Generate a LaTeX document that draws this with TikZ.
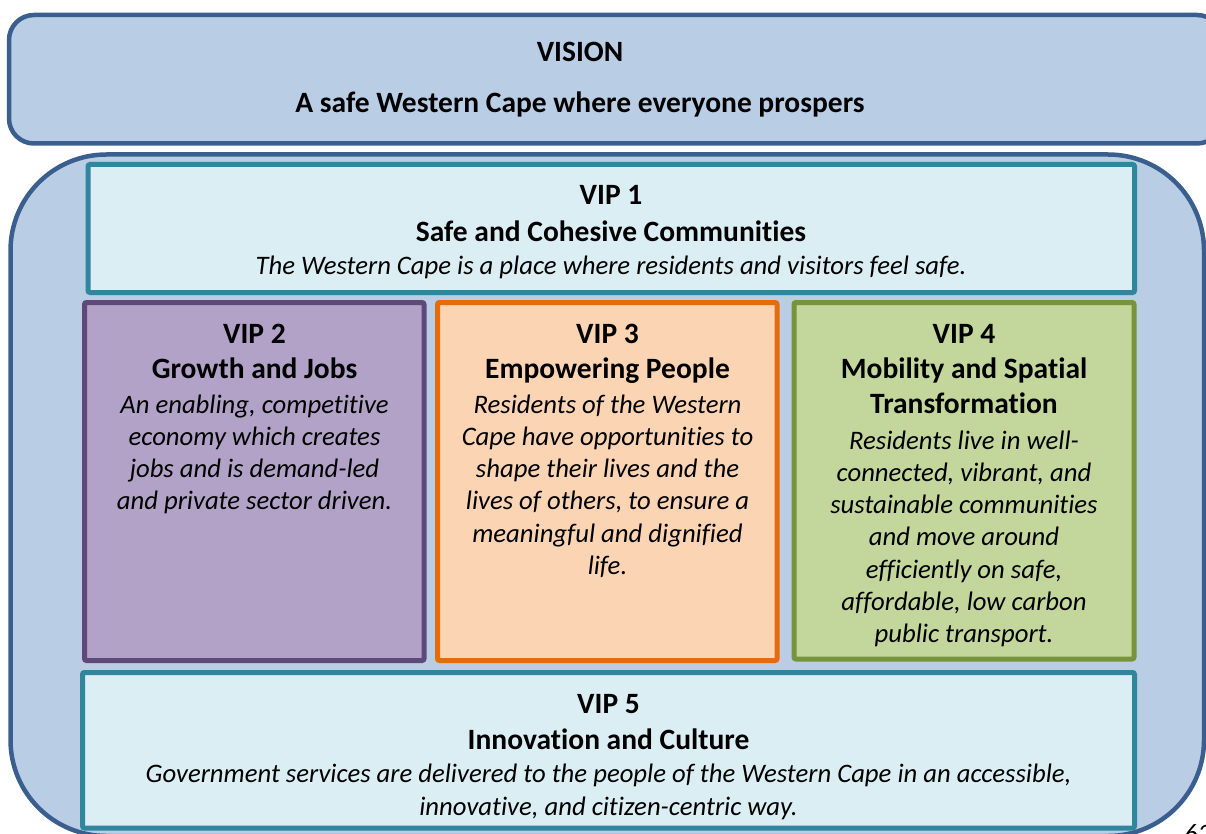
\documentclass[tikz,border=0pt]{standalone}
\usepackage{fontspec}
\setmainfont{Carlito}[Ligatures=NoCommon]
\definecolor{outerline}{HTML}{3A5F8E}
\definecolor{outerfill}{HTML}{B9CDE5}
\definecolor{tealline}{HTML}{31859C}
\definecolor{tealfill}{HTML}{DBEEF4}
\definecolor{purpline}{HTML}{5F497A}
\definecolor{purpfill}{HTML}{B2A2C7}
\definecolor{orline}{HTML}{E46C0A}
\definecolor{orfill}{HTML}{FBD4B4}
\definecolor{grline}{HTML}{77933C}
\definecolor{grfill}{HTML}{C3D69B}
\tikzset{
  bigbox/.style={draw=outerline, fill=outerfill, line width=4.5pt},
  vipbox/.style={line width=5pt, rounded corners=2pt},
  head/.style={anchor=base, inner sep=0pt, font=\fontsize{29.5}{35}\selectfont\bfseries},
  desc/.style={anchor=base, inner sep=0pt, font=\fontsize{26.7}{32.3}\selectfont\itshape},
}
\begin{document}
\begin{tikzpicture}[x=1pt,y=-1pt]
\useasboundingbox (0,0) rectangle (1206,834);
% vision
\draw[bigbox, rounded corners=25pt] (9,15) rectangle (1222,143.5);
\node[head] (vision) at (580,62) {VISION};
\node[head] (visiontext) at (580,113) {A safe Western Cape where everyone prospers};
% outer frame
\draw[bigbox, rounded corners=96pt] (10.5,154.5) rectangle (1204,836);
% VIP 1
\draw[vipbox, draw=tealline, fill=tealfill] (88,164.5) rectangle (1134.5,292.5);
\node[head] (v1a) at (611,205) {VIP 1};
\node[head] (v1b) at (611,241) {Safe and Cohesive Communities};
\node[desc] (v1d) at (611,274) {The Western Cape is a place where residents and visitors feel safe.};
% VIP 2
\draw[vipbox, draw=purpline, fill=purpfill] (84.5,302.5) rectangle (424,660.5);
\node[head] (v2a) at (254.5,343) {VIP 2};
\node[head] (v2b) at (254.5,378) {Growth and Jobs};
\foreach \t [count=\i] in {{An enabling, competitive},{economy which creates},{jobs and is demand-led},{and private sector driven.}}
  \node[desc] (v2d\i) at (254.5,{413+(\i-1)*32.3}) {\t};
% VIP 3
\draw[vipbox, draw=orline, fill=orfill] (437.5,302.5) rectangle (777,660.5);
\node[head] (v3a) at (607.5,343) {VIP 3};
\node[head] (v3b) at (607.5,378) {Empowering People};
\foreach \t [count=\i] in {{Residents of the Western},{Cape have opportunities to},{shape their lives and the},{lives of others, to ensure a},{meaningful and dignified},{life.}}
  \node[desc] (v3d\i) at (607.5,{413+(\i-1)*32.3}) {\t};
% VIP 4
\draw[vipbox, draw=grline, fill=grfill] (794,302.5) rectangle (1134,659);
\node[head] (v4a) at (964,343) {VIP 4};
\node[head] (v4b) at (964,378) {Mobility and Spatial};
\node[head] (v4c) at (964,413) {Transformation};
\foreach \t [count=\i] in {{Residents live in well-},{connected, vibrant, and},{sustainable communities},{and move around},{efficiently on safe,},{affordable, low carbon},{public transport.}}
  \node[desc] (v4d\i) at (964,{449+(\i-1)*32.3}) {\t};
% VIP 5
\draw[vipbox, draw=tealline, fill=tealfill] (82.5,672.5) rectangle (1134.5,828);
\node[head] (v5a) at (608.5,713) {VIP 5};
\node[head] (v5b) at (608.5,749) {Innovation and Culture};
\node[desc] (v5d1) at (608.5,782) {Government services are delivered to the people of the Western Cape in an accessible,};
\node[desc] (v5d2) at (608.5,815) {innovative, and citizen-centric way.};
% page number
\node[desc, anchor=base west] (pagenum) at (1184,842) {62};
\end{tikzpicture}
\end{document}
